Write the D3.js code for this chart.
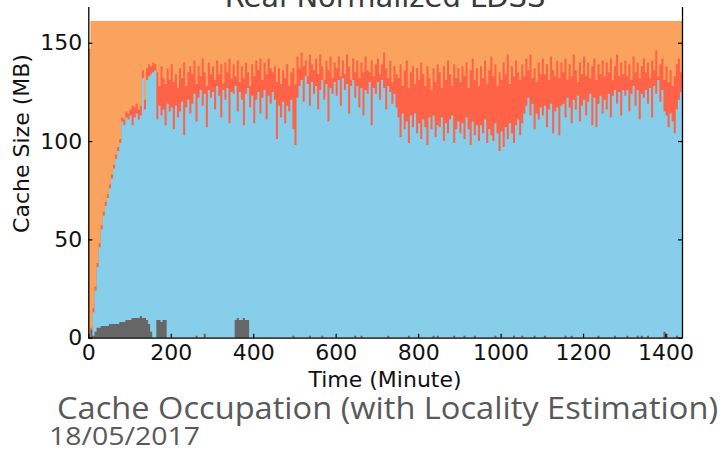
<!DOCTYPE html>
<html>
<head>
<meta charset="utf-8">
<script src="https://cdn.jsdelivr.net/npm/d3@7"></script>
<style>
  body { margin: 0; background: #fff; }
  svg { display: block; }
</style>
</head>
<body>
<div id="chart"></div>
<script>
// sampling grid: one reading every 5 minutes over the day
var minutes = d3.range(0, 1441, 5);

// stack tops (MB), 10 readings per row (50 min)
var greyTop = [
  0,4,1,3,5,5,6,6,6,6,   7,7,7,7,7,8,8,8,9,9,   9,10,10,10,10,11,10,10,9,7,
  3,0,0,9,9,8,9,9,0,0,   0,0,0,0,0,0,0,0,0,0,   0,0,1,0,0,0,2,0,0,0,
  0,0,0,0,0,0,0,0,0,0,   0,9,10,9,9,10,9,9,0,0, 0,0,0,0,0,0,0,0,0,0,
  0,0,0,0,0,0,0,0,0,1,   0,0,0,0,0,0,0,1,0,0,   0,0,0,1,0,0,0,0,0,0,
  0,0,0,0,0,0,0,0,0,1,   0,0,1,0,0,0,0,0,0,0,   0,0,0,0,0,1,0,0,0,0,
  0,0,0,0,0,1,0,0,0,0,   0,0,0,0,0,0,0,1,0,1,   0,0,0,0,0,0,0,1,0,0,
  0,0,1,0,0,0,0,1,0,0,   0,0,0,0,0,0,0,1,0,0,   0,0,0,0,0,0,1,0,0,0,
  1,0,0,0,0,0,1,0,0,0,   0,1,0,0,0,0,0,0,0,0,   0,1,0,0,1,0,0,0,0,0,
  0,0,0,0,0,0,0,1,0,0,   0,0,0,0,0,1,0,0,0,0,   0,1,0,0,0,0,1,0,1,0,
  0,1,0,0,0,0,0,0,0,3,   2,0,0,0,0,1,0,0,0
];

var blueTop = [
  0,3,13,24,36,46,55,62,67,71,
  76,81,86,91,95,99,110,108,112,111,
  113,108,112,114,111,113,132,116,131,133,
  134,135,136,111,118,113,116,108,119,115,
  117,106,118,112,115,120,103,117,121,114,
  119,124,110,122,126,118,124,107,126,122,
  125,116,128,123,112,126,121,127,109,125,
  124,128,115,125,121,108,124,127,117,123,
  109,121,125,114,122,126,111,123,119,125,
  121,101,118,112,120,109,118,115,121,106,
  98,122,128,131,120,133,129,118,130,124,
  128,116,126,131,121,129,110,127,124,130,
  123,131,118,132,126,129,114,128,131,122,
  128,117,127,113,126,124,130,108,127,124,
  130,121,131,127,116,128,125,119,124,117,
  112,102,114,106,110,99,113,107,114,104,
  109,101,111,107,98,112,106,113,102,108,
  107,112,100,109,104,111,113,99,106,110,
  104,109,101,112,106,98,110,103,108,100,
  108,104,111,99,106,103,100,109,104,95,
  105,97,107,101,109,104,99,108,111,103,
  109,114,118,122,113,119,106,114,111,117,
  113,118,107,116,119,104,115,117,103,118,
  119,112,122,117,109,121,116,123,110,118,
  121,113,120,124,108,122,107,119,123,114,
  121,116,124,112,123,126,119,125,113,126,
  123,126,115,124,128,118,126,111,124,122,
  126,119,127,112,128,124,131,120,126,115,
  113,107,114,110,104,116,121,125,118
];

var redTop = [
  0,5,15,26,38,48,57,64,69,73,
  78,83,88,93,97,101,112,111,115,114,
  116,118,117,119,116,118,136,121,137,139,
  138,140,139,135,128,138,132,129,137,131,
  139,130,134,127,137,132,140,128,135,138,
  134,141,129,138,133,142,135,128,140,134,
  138,131,141,134,139,129,140,135,142,132,
  139,133,141,130,138,132,140,135,128,139,
  133,141,136,142,131,140,134,142,137,135,
  138,130,137,129,136,132,139,128,135,137,
  129,143,137,145,138,141,133,144,139,136,
  142,134,144,138,131,141,136,143,132,140,
  137,143,133,141,134,144,138,131,142,135,
  141,132,140,135,143,136,135,141,133,139,
  142,134,139,145,137,132,141,130,138,134,
  132,139,128,136,141,127,135,138,129,137,
  131,140,134,128,138,132,126,137,130,139,
  135,127,138,131,141,134,128,139,132,137,
  130,138,133,140,127,136,142,131,137,128,
  138,132,141,129,136,143,133,139,128,135,
  131,140,134,144,129,138,133,141,135,131,
  139,133,142,136,144,132,137,130,140,134,
  142,134,139,131,143,136,133,141,132,140,
  135,142,131,139,133,144,136,130,140,134,
  143,133,140,132,138,142,131,139,134,141,
  133,140,135,142,131,138,144,133,140,134,
  141,133,139,131,143,135,140,132,138,142,
  135,140,132,141,136,146,133,139,142,131,
  138,130,136,128,133,139,142,135,139
];

// total cache capacity (orange), step values
var capacityMinutes = [0, 5, 1440];
var capacityValues = [147, 161, 161];

var xTicks = [0, 200, 400, 600, 800, 1000, 1200, 1400];
var yTicks = [0, 50, 100, 150];

var width = 724, height = 451;
var FONT = "'DejaVu Sans', sans-serif";

var svg = d3.select('#chart').append('svg')
    .attr('width', width)
    .attr('height', height);

var xScale = d3.scaleLinear().domain([0, 1440]).range([88.3, 682]);
var yScale = d3.scaleLinear().domain([0, 170]).range([337.7, 3.4]);

function stepArea(xs, ys) {
    var pts = xs.map(function(t, i) { return [t, ys[i]]; });
    return d3.area()
        .curve(d3.curveStepAfter)
        .x(function(d) { return xScale(d[0]); })
        .y0(yScale(0))
        .y1(function(d) { return yScale(d[1]); })(pts);
}

// layers, painted back to front
svg.append('path').attr('d', stepArea(capacityMinutes, capacityValues)).attr('fill', '#f9a35e');
svg.append('path').attr('d', stepArea(minutes, redTop)).attr('fill', '#ff6347');
svg.append('path').attr('d', stepArea(minutes, blueTop)).attr('fill', '#87ceeb');
svg.append('path').attr('d', stepArea(minutes, greyTop)).attr('fill', '#666666');

// axes (ticks point inward)
var xAxis = svg.append('g')
    .attr('transform', 'translate(0,' + yScale(0) + ')')
    .call(d3.axisBottom(xScale).tickValues(xTicks).tickFormat(d3.format('d'))
        .tickSizeInner(-4).tickSizeOuter(0).tickPadding(6.5));

var yAxis = svg.append('g')
    .attr('transform', 'translate(' + xScale(0) + ',0)')
    .call(d3.axisLeft(yScale).tickValues(yTicks).tickSizeInner(-4).tickSizeOuter(0).tickPadding(6));

var yAxisRight = svg.append('g')
    .attr('transform', 'translate(' + xScale(1440) + ',0)')
    .call(d3.axisRight(yScale).tickValues(yTicks).tickSizeInner(-4).tickSizeOuter(0).tickFormat(''));

[xAxis, yAxis, yAxisRight].forEach(function(ax) {
    ax.select('.domain').attr('stroke', '#000').attr('stroke-width', 1.3);
    ax.selectAll('.tick line').attr('stroke', '#000').attr('stroke-width', 1.2);
    ax.selectAll('.tick text')
        .attr('fill', '#111')
        .style('font-family', FONT)
        .style('font-size', '22px');
});

// axis labels
svg.append('text')
    .attr('x', 385)
    .attr('y', 387)
    .attr('text-anchor', 'middle')
    .attr('fill', '#111')
    .style('font-family', FONT)
    .style('font-size', '22px')
    .text('Time (Minute)');

svg.append('text')
    .attr('transform', 'translate(29,143.5) rotate(-90)')
    .attr('text-anchor', 'middle')
    .attr('fill', '#111')
    .style('font-family', FONT)
    .style('font-size', '22px')
    .text('Cache Size (MB)');

// title strip (clipped at the top of the slide)
svg.append('rect').attr('x', 0).attr('y', 0).attr('width', width).attr('height', 7).attr('fill', '#fff');
svg.append('text')
    .attr('x', 385)
    .attr('y', 7)
    .attr('text-anchor', 'middle')
    .attr('fill', '#3a3a3a')
    .style('font-family', FONT)
    .style('font-size', '29px')
    .text('Real Normalized LDSS');

// slide caption box below the chart
svg.append('rect').attr('x', 0).attr('y', 390).attr('width', width).attr('height', height - 390).attr('fill', '#fff');
svg.append('text')
    .attr('x', 57)
    .attr('y', 419)
    .attr('fill', '#595959')
    .attr('textLength', 661)
    .attr('lengthAdjust', 'spacingAndGlyphs')
    .style('font-family', "'Open Sans', sans-serif")
    .style('font-size', '31px')
    .text('Cache Occupation (with Locality Estimation)');

svg.append('text')
    .attr('x', 49)
    .attr('y', 445)
    .attr('fill', '#595959')
    .attr('textLength', 151)
    .attr('lengthAdjust', 'spacingAndGlyphs')
    .style('font-family', "'Open Sans', sans-serif")
    .style('font-size', '25px')
    .text('18/05/2017');
</script>
</body>
</html>
